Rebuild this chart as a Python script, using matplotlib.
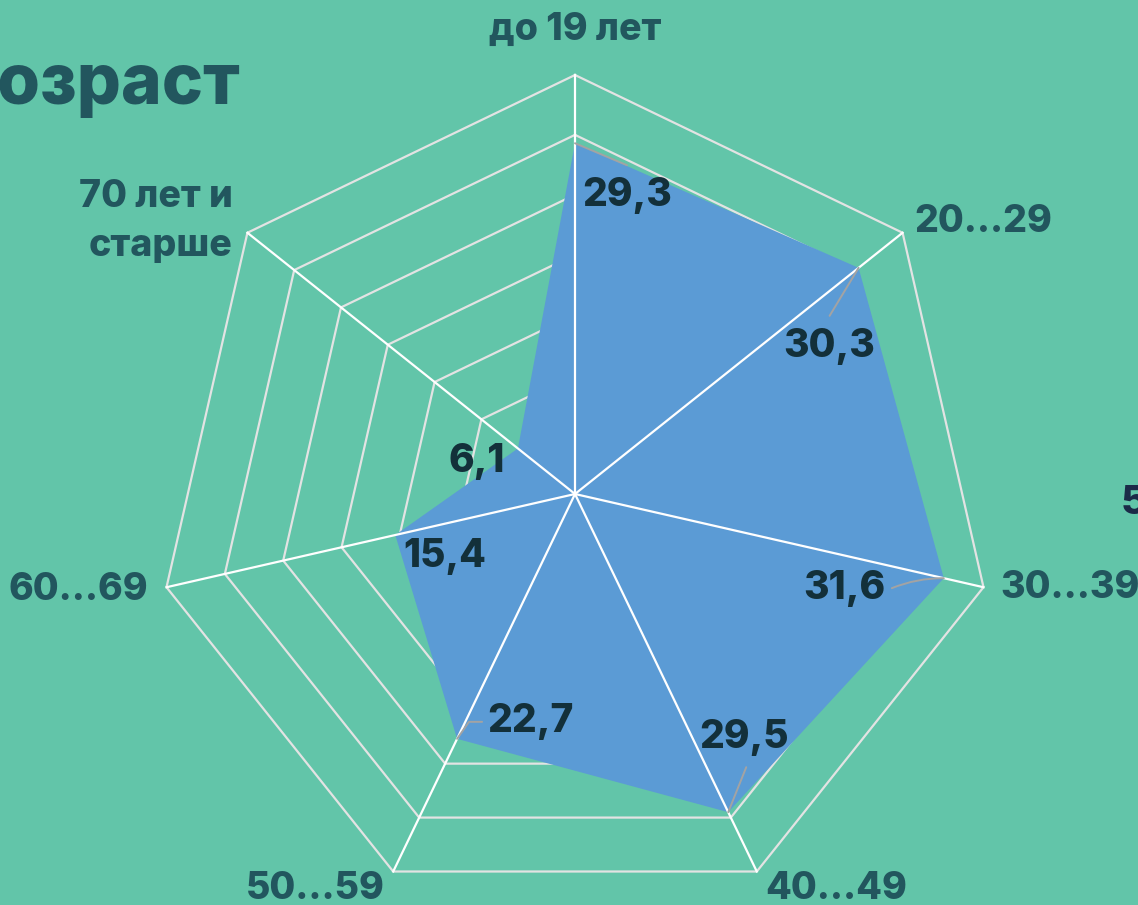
import numpy as np
import matplotlib
matplotlib.use("Agg")
import matplotlib.pyplot as plt

# ---- data ----
categories = ["до 19 лет", "20...29", "30...39", "40...49", "50...59", "60...69", "70 лет и\nстарше"]
values = [29.3, 30.3, 31.6, 29.5, 22.7, 15.4, 6.1]
value_labels = ["29,3", "30,3", "31,6", "29,5", "22,7", "15,4", "6,1"]
ring_values = [5, 10, 15, 20, 25, 30, 35]
r_max = 35

# ---- style ----
BG = "#62C5A9"
FILL = "#5B9BD5"
CAT_COLOR = "#22565E"
VAL_COLOR = "#13303A"
RING_COLOR = "#E3E3E3"
FONT = ["Inter", "DejaVu Sans"]
WEIGHT = 800

W, H, DPI = 1138, 905, 100
fig = plt.figure(figsize=(W / DPI, H / DPI), dpi=DPI, facecolor=BG)

cx, cy, R = 575, 494, 419  # pixel centre and radius
ax = fig.add_axes([(cx - R) / W, (H - cy - R) / H, 2 * R / W, 2 * R / H], projection="polar")
ax.set_facecolor("none")
ax.set_theta_offset(np.pi / 2)
ax.set_theta_direction(-1)
ax.set_ylim(0, r_max)
ax.grid(False)
ax.spines["polar"].set_visible(False)
ax.set_xticks([])
ax.set_yticks([])

n = len(categories)
theta = np.arange(n) * 2 * np.pi / n
theta_closed = np.append(theta, theta[0])

# rings (under the fill)
for rv in ring_values:
    ax.plot(theta_closed, [rv] * (n + 1), color=RING_COLOR, lw=1.6, zorder=1, clip_on=False)

# fill
vals_closed = np.append(values, values[0])
ax.fill(theta_closed, vals_closed, color=FILL, zorder=2, lw=0)

# spokes (over the fill)
for t in theta:
    ax.plot([t, t], [0, r_max], color="white", lw=1.6, zorder=3, clip_on=False)

# category labels
cat_offsets = [(0, 45), (12, 11), (17, -1), (8, -17), (-8, -17), (-18, -3), (-15, 11)]
cat_ha = ["center", "left", "left", "left", "right", "right", "right"]
for t, lab, off, ha in zip(theta, categories, cat_offsets, cat_ha):
    ax.annotate(lab, xy=(t, r_max), xytext=off, textcoords="offset pixels",
                ha=ha, va="center", fontsize=27, fontweight=WEIGHT, color=CAT_COLOR,
                family=FONT, linespacing=1.45, multialignment="right",
                annotation_clip=False, zorder=5)

# value labels
val_offsets = [(52, -52), (-29, -79), (-99, -10), (16, 75), (73, 17), (49, -21), (-41, -13)]
for t, v, lab, off in zip(theta, values, value_labels, val_offsets):
    ax.annotate(lab, xy=(t, v), xytext=off, textcoords="offset pixels",
                ha="center", va="center", fontsize=28, fontweight=WEIGHT, color=VAL_COLOR,
                family=FONT, annotation_clip=False, zorder=5)

# leader lines
leader_ends = [(52, -22), (-29, -48), (-52, -10), (18, 45), (25, 17), None, None]
leader_conn = ["arc3", "arc3", "arc3,rad=-0.1", "arc3", "angle,angleA=0,angleB=55,rad=0", None, None]
for t, v, end, conn in zip(theta, values, leader_ends, leader_conn):
    if end is None:
        continue
    ax.annotate("", xy=(t, v), xytext=end, textcoords="offset pixels",
                arrowprops=dict(arrowstyle="-", color="#A3A3A3", lw=1.4,
                                connectionstyle=conn, shrinkA=0, shrinkB=0),
                annotation_clip=False, zorder=4)

# title (cut off at left edge, as in reference)
fig.text(240 / W, 1 - 86 / H, "Возраст", ha="right", va="center", fontsize=50,
         fontweight=WEIGHT, color=CAT_COLOR, family=FONT)

# partial number from neighbouring element at right edge
fig.text(1121 / W, 1 - 504 / H, "5", ha="left", va="center", fontsize=29,
         fontweight=WEIGHT, color="#1B2B48", family=FONT)

fig.savefig("out.png", dpi=DPI, facecolor=BG)
